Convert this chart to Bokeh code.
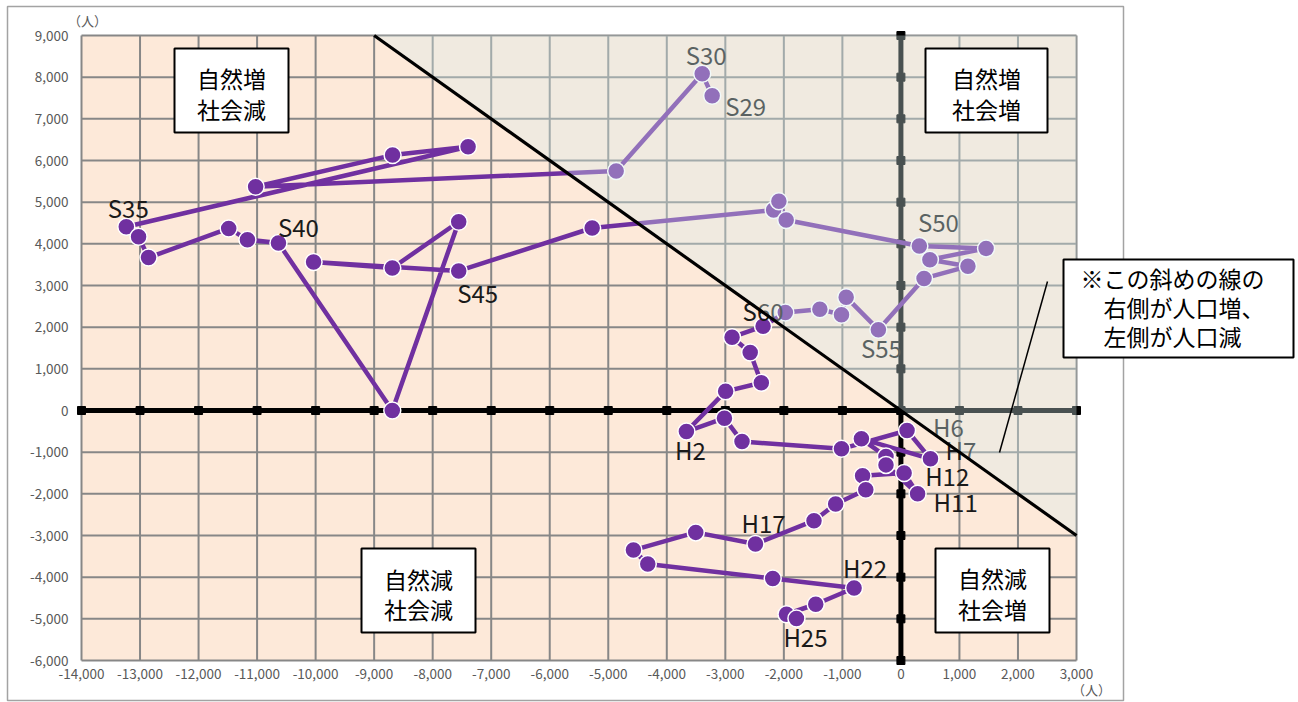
from bokeh.plotting import figure
from bokeh.models import LinearAxis, FixedTicker, NumeralTickFormatter, Range1d
from bokeh.core.properties import value
from bokeh.embed import file_html
from bokeh.resources import INLINE

# ---------------- data ----------------
years = ["S29", "S30", "S31", "S32", "S33", "S34", "S35", "S36", "S37", "S38",
         "S39", "S40", "S41", "S42", "S43", "S44", "S45", "S46", "S47", "S48",
         "S49", "S50", "S51", "S52", "S53", "S54", "S55", "S56", "S57", "S58",
         "S59", "S60", "S61", "S62", "S63", "H1", "H2", "H3", "H4", "H5",
         "H6", "H7", "H8", "H9", "H10", "H11", "H12", "H13", "H14", "H15",
         "H16", "H17", "H18", "H19", "H20", "H21", "H22", "H23", "H24", "H25"]

# social change (x)
social = [-3225, -3395, -4865, -11025, -8685, -7395, -13235, -13025, -12855, -11485,
          -11165, -10635, -8690, -7555, -8690, -10035, -7555, -5275, -2175, -2085,
          -1960, 315, 1455, 495, 1145, 395, -385, -935, -1015, -1385,
          -1975, -2355, -2885, -2575, -2385, -2995, -3665, -3015, -2715, -1015,
          105, 505, -675, -255, -255, 285, 55, -655, -600, -1115,
          -1485, -2485, -3505, -4570, -4325, -2190, -800, -1455, -1955, -1785]

# natural change (y)
natural = [7555, 8080, 5750, 5370, 6130, 6330, 4410, 4170, 3670, 4370,
           4100, 4020, 0, 4530, 3420, 3565, 3350, 4380, 4810, 5020,
           4570, 3950, 3890, 3620, 3460, 3170, 1940, 2720, 2300, 2430,
           2350, 2020, 1760, 1390, 665, 460, -505, -185, -745, -920,
           -480, -1160, -680, -1105, -1305, -2000, -1500, -1565, -1900, -2245,
           -2645, -3205, -2925, -3350, -3685, -4030, -4260, -4650, -4890, -4990]

x_ticks = list(range(-14000, 3001, 1000))
y_ticks = list(range(-6000, 9001, 1000))

quadrant_texts = [("自然増", "社会減"), ("自然増", "社会増"), ("自然減", "社会減"), ("自然減", "社会増")]
note_lines = ["※この斜めの線の", "右側が人口増、", "左側が人口減"]
unit_text = "（人）"

# ---------------- layout ----------------
FONT = "Noto Sans CJK JP"
W, H = 1298, 702
PL, PR, PT, PB = 81, 1076, 35, 660          # plot area in figure pixels
X_MIN, X_MAX = x_ticks[0], x_ticks[-1]
Y_MIN, Y_MAX = y_ticks[0], y_ticks[-1]
sx = (PR - PL) / (X_MAX - X_MIN)
sy = (PB - PT) / (Y_MAX - Y_MIN)
x0 = X_MIN - PL / sx
x1 = X_MAX + (W - PR) / sx
y1 = Y_MAX + PT / sy
y0 = Y_MIN - (H - PB) / sy


def fx(px):
    return x0 + px / sx


def fy(py):
    return y1 - py / sy


p = figure(width=W, height=H, x_range=Range1d(x0, x1), y_range=Range1d(y0, y1),
           output_backend="svg", toolbar_location=None, title=None,
           x_axis_type=None, y_axis_type=None, min_border=0)
p.outline_line_color = None
p.background_fill_color = "white"
p.border_fill_color = "white"

# outer chart frame
p.quad(left=fx(7), right=fx(1123), top=fy(6), bottom=fy(700),
       fill_color=None, line_color="#a3a3a3", line_width=1.5)

# plot area background
p.quad(left=X_MIN, right=X_MAX, bottom=Y_MIN, top=Y_MAX,
       fill_color="#FDE9D9", line_color=None)

# grid lines
p.segment(x0=x_ticks, y0=[Y_MIN] * len(x_ticks), x1=x_ticks, y1=[Y_MAX] * len(x_ticks),
          line_color="#878787", line_width=2)
p.segment(x0=[X_MIN] * len(y_ticks), y0=y_ticks, x1=[X_MAX] * len(y_ticks), y1=y_ticks,
          line_color="#878787", line_width=2)

# zero axes with tick squares
p.segment(x0=[X_MIN], y0=[0], x1=[X_MAX], y1=[0], line_color="black", line_width=5)
p.segment(x0=[0], y0=[Y_MIN], x1=[0], y1=[Y_MAX], line_color="black", line_width=5)
p.scatter(x=x_ticks, y=[0] * len(x_ticks), marker="square", size=8, color="black")
p.scatter(x=[0] * len(y_ticks), y=y_ticks, marker="square", size=8, color="black")

# series
p.line(social, natural, line_color="#7030A0", line_width=4.5)
p.scatter(social, natural, size=17, fill_color="#7030A0", line_color="white", line_width=1.5)

# point labels: name -> (x_offset, y_offset, align)
label_pos = {
    "S29": (13, 10, "left"), "S30": (4, -19, "center"), "S35": (2, -19, "center"),
    "S40": (20, -17, "center"), "S45": (19, 22, "center"), "S50": (19, -24, "center"),
    "S55": (3, 18, "center"), "S60": (0, -16, "center"), "H2": (4, 18, "center"),
    "H6": (26, -4, "left"), "H7": (15, -9, "left"), "H11": (16, 8, "left"),
    "H12": (21, 2, "left"), "H17": (8, -22, "center"), "H22": (11, -21, "center"),
    "H25": (9, 18, "center"),
}
for name, (dx, dy, al) in label_pos.items():
    i = years.index(name)
    p.text(x=[social[i]], y=[natural[i]], text=[name], x_offset=dx, y_offset=dy,
           text_align=al, text_baseline="middle", text_font=value(FONT),
           text_font_size="24px", text_color="#1a1a1a")

# semi-transparent overlay for the population-increase side (x + y > 0)
p.patch(x=[-Y_MAX, X_MAX, X_MAX], y=[Y_MAX, Y_MAX, -X_MAX],
        fill_color=(214, 236, 236), fill_alpha=0.34, line_color=None)

# diagonal line x + y = 0
p.line(x=[-Y_MAX, X_MAX], y=[Y_MAX, -X_MAX], line_color="black", line_width=3.2)

# pointer line from the note box
p.line(x=[fx(1047), fx(999)], y=[fy(281), fy(452)], line_color="black", line_width=1.5)

# quadrant boxes
boxes = [(174, 288, 48, 132, 231, 77, 108),
         (925, 1047, 48, 132, 986, 77, 108),
         (361, 475, 548, 632, 418, 578, 608),
         (935, 1049, 548, 632, 992, 577, 608)]
for (l, r, t, b, cx, ly1, ly2), (t1, t2) in zip(boxes, quadrant_texts):
    p.quad(left=fx(l), right=fx(r), top=fy(t), bottom=fy(b),
           fill_color="white", line_color="black", line_width=2)
    p.text(x=[fx(cx), fx(cx)], y=[fy(ly1), fy(ly2)], text=[t1, t2],
           text_align="center", text_baseline="middle", text_font=value(FONT),
           text_font_size="23px", text_color="black")

# note box
p.quad(left=fx(1063), right=fx(1293), top=fy(259), bottom=fy(357),
       fill_color="white", line_color="black", line_width=2)
p.text(x=[fx(1080), fx(1103), fx(1103)], y=[fy(277), fy(306), fy(335)], text=note_lines,
       text_align="left", text_baseline="middle", text_font=value(FONT),
       text_font_size="23px", text_color="black")

# unit labels
p.text(x=[fx(87), fx(1091)], y=[fy(20), fy(689)], text=[unit_text, unit_text],
       text_align="center", text_baseline="middle", text_font=value(FONT),
       text_font_size="13px", text_color="#595959")

# axes
xaxis = LinearAxis(ticker=FixedTicker(ticks=x_ticks), formatter=NumeralTickFormatter(format="0,0"),
                   fixed_location=Y_MIN)
yaxis = LinearAxis(ticker=FixedTicker(ticks=y_ticks), formatter=NumeralTickFormatter(format="0,0"),
                   fixed_location=X_MIN)
for ax in (xaxis, yaxis):
    ax.axis_line_color = None
    ax.major_tick_line_color = None
    ax.minor_tick_line_color = None
    ax.major_tick_out = 0
    ax.major_tick_in = 0
    ax.major_label_text_font = FONT
    ax.major_label_text_font_size = "13.5px"
    ax.major_label_text_color = "#595959"
xaxis.major_label_standoff = 8
yaxis.major_label_standoff = 13
p.add_layout(xaxis, "below")
p.add_layout(yaxis, "left")

open("out.html", "w").write(file_html(p, INLINE))
